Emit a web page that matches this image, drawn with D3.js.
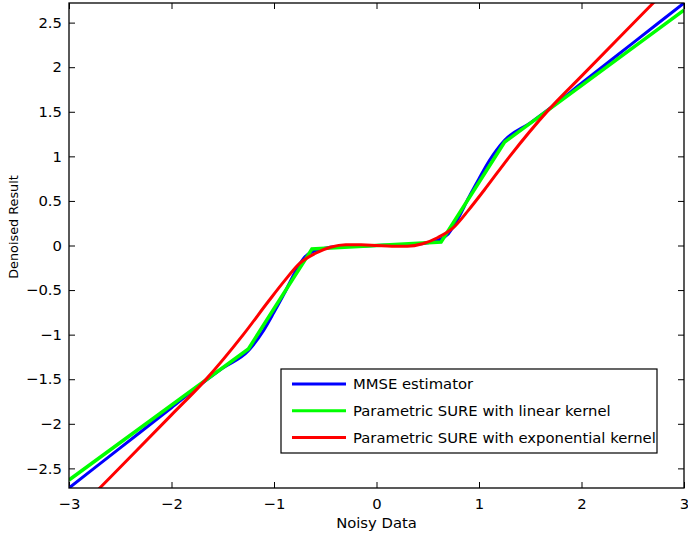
<!DOCTYPE html>
<html>
<head>
<meta charset="utf-8">
<script src="https://cdn.jsdelivr.net/npm/d3@7"></script>
<style>
  html, body { margin: 0; padding: 0; background: #fff; }
  svg { display: block; }
  text { font-family: "DejaVu Sans", sans-serif; fill: #000; }
</style>
</head>
<body>
<svg id="chart" width="688" height="533"></svg>
<script>
// ---- data ----
const xTicks = [-3, -2, -1, 0, 1, 2, 3];
const yTicks = [-2.5, -2, -1.5, -1, -0.5, 0, 0.5, 1, 1.5, 2, 2.5];
const xTickLabels = ["\u22123", "\u22122", "\u22121", "0", "1", "2", "3"];
const yTickLabels = ["\u22122.5", "\u22122", "\u22121.5", "\u22121", "\u22120.5", "0", "0.5", "1", "1.5", "2", "2.5"];

const seriesNames = ["MMSE estimator", "Parametric SURE with linear kernel", "Parametric SURE with exponential kernel"];
const seriesColors = ["#0000ff", "#00ff00", "#ff0000"];

const mmseX = [-3, -2.5, -2, -1.75, -1.5, -1.25, -1.1, -1.0, -0.9, -0.8, -0.7, -0.6, -0.5, -0.4, -0.2, 0, 0.2, 0.4, 0.5, 0.6, 0.7, 0.8, 0.9, 1.0, 1.1, 1.25, 1.5, 1.75, 2, 2.5, 3];
const mmseY = [-2.72, -2.27, -1.82, -1.59, -1.375, -1.18, -0.95, -0.75, -0.54, -0.31, -0.13, -0.06, -0.03, -0.015, -0.005, 0, 0.005, 0.015, 0.03, 0.06, 0.13, 0.31, 0.54, 0.75, 0.95, 1.18, 1.375, 1.59, 1.82, 2.27, 2.72];

const linX = [-3, -1.25, -0.63, 0.63, 1.25, 3];
const linY = [-2.63, -1.16, -0.04, 0.04, 1.16, 2.64];

const expX = [-3.0, -2.7, -2.4, -2.0, -1.67, -1.3, -1.05, -0.9, -0.75, -0.6, -0.45, -0.3, -0.15, 0, 0.15, 0.3, 0.45, 0.6, 0.75, 0.9, 1.05, 1.3, 1.67, 2.0, 2.4, 2.7, 3.0];
const expY = [-3.07, -2.72, -2.37, -1.9, -1.51, -1.0, -0.62, -0.4, -0.2, -0.09, -0.02, 0.008, 0.008, 0, -0.008, -0.008, 0.02, 0.09, 0.2, 0.4, 0.62, 1.0, 1.51, 1.9, 2.37, 2.72, 3.07];

const xLabel = "Noisy Data";
const yLabel = "Denoised Result";

// ---- layout ----
const L = 69, R = 684, T = 3, B = 488;
const svg = d3.select("#chart");
const x = d3.scaleLinear().domain([-3, 3]).range([L, R]);
const y = d3.scaleLinear().domain([-2.72, 2.72]).range([B, T]);

svg.append("defs").append("clipPath").attr("id", "clip")
  .append("rect").attr("x", L).attr("y", T).attr("width", R - L).attr("height", B - T);

const fs = "14.8px";

// axes (MATLAB style: inward ticks on all four sides)
const tickLen = 6;
const ax = svg.append("g");
const xb = ax.append("g").attr("transform", `translate(0,${B})`)
  .call(d3.axisBottom(x).tickValues(xTicks).tickSize(-tickLen).tickPadding(10)
        .tickFormat((d, i) => xTickLabels[i]));
const xt = ax.append("g").attr("transform", `translate(0,${T})`)
  .call(d3.axisTop(x).tickValues(xTicks).tickSize(-tickLen).tickFormat(""));
const yl = ax.append("g").attr("transform", `translate(${L},0)`)
  .call(d3.axisLeft(y).tickValues(yTicks).tickSize(-tickLen).tickPadding(7)
        .tickFormat((d, i) => yTickLabels[i]));
const yr = ax.append("g").attr("transform", `translate(${R},0)`)
  .call(d3.axisRight(y).tickValues(yTicks).tickSize(-tickLen).tickFormat(""));
ax.selectAll(".domain").remove();
ax.selectAll(".tick line").attr("stroke", "#000").attr("stroke-width", 1);
ax.selectAll("text").style("font-size", fs).style("font-family", "DejaVu Sans");
xb.selectAll("text").attr("dy", "0.71em");

// lines
const line = d3.line().x(d => x(d[0])).y(d => y(d[1])).curve(d3.curveMonotoneX);
const lineLin = d3.line().x(d => x(d[0])).y(d => y(d[1]));
const plot = svg.append("g").attr("clip-path", "url(#clip)");
plot.append("path").datum(d3.zip(mmseX, mmseY)).attr("d", line)
  .attr("fill", "none").attr("stroke", seriesColors[0]).attr("stroke-width", 3);
plot.append("path").datum(d3.zip(linX, linY)).attr("d", lineLin)
  .attr("fill", "none").attr("stroke", seriesColors[1]).attr("stroke-width", 3.5).attr("stroke-linejoin", "miter");
plot.append("path").datum(d3.zip(expX, expY)).attr("d", line)
  .attr("fill", "none").attr("stroke", seriesColors[2]).attr("stroke-width", 3);

// box
svg.append("rect").attr("x", L).attr("y", T).attr("width", R - L).attr("height", B - T)
  .attr("fill", "none").attr("stroke", "#000").attr("stroke-width", 1.3);

// axis labels
svg.append("text").attr("x", (L + R) / 2).attr("y", 528).attr("text-anchor", "middle")
  .style("font-size", fs).text(xLabel);
svg.append("text").attr("transform", `translate(18,227) rotate(-90)`)
  .attr("text-anchor", "middle").style("font-size", "12.8px").text(yLabel);

// legend
const lg = svg.append("g");
lg.append("rect").attr("x", 281).attr("y", 369).attr("width", 376).attr("height", 84)
  .attr("fill", "#fff").attr("stroke", "#000").attr("stroke-width", 1.2);
seriesNames.forEach((n, i) => {
  const yy = 384 + i * 26.7;
  lg.append("line").attr("x1", 292).attr("x2", 346).attr("y1", yy).attr("y2", yy)
    .attr("stroke", seriesColors[i]).attr("stroke-width", 3);
  lg.append("text").attr("x", 353).attr("y", yy).attr("dy", "0.35em")
    .style("font-size", fs).text(n);
});
</script>
</body>
</html>
